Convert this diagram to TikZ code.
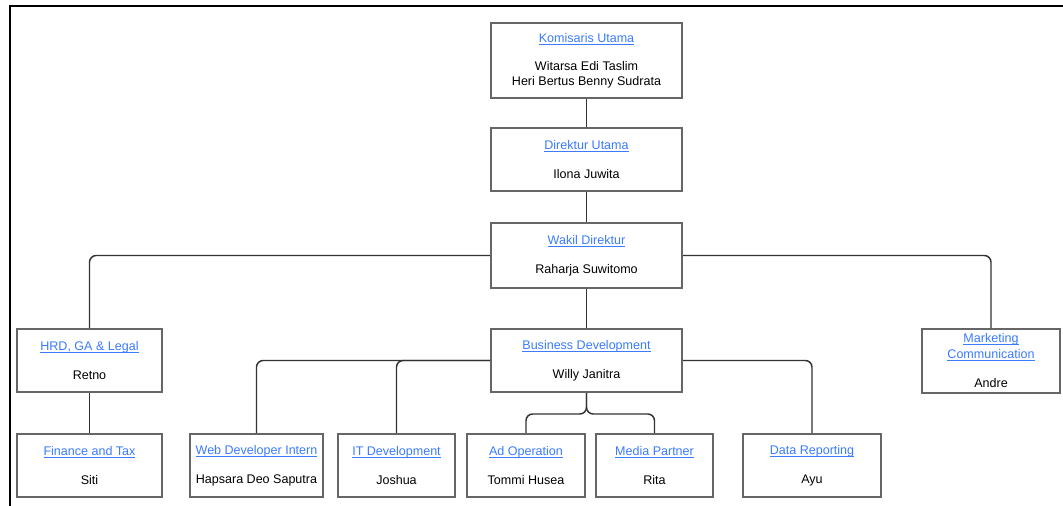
\documentclass[tikz,border=0pt]{standalone}
\usepackage{fontspec}
\setmainfont{Liberation Sans}
\definecolor{linkblue}{HTML}{3A7BFF}
\definecolor{boxgray}{HTML}{666666}
\definecolor{linegray}{HTML}{333333}
\newcommand\hd[1]{{\color{linkblue}\setbox0\hbox{#1}\rlap{\rule[-1.6pt]{\wd0}{0.6pt}}\box0}}
\begin{document}
\begin{tikzpicture}[x=0.75pt,y=-0.75pt,
  box/.style={draw=boxgray, line width=1.5pt, fill=white, inner sep=0pt, align=center,
    font=\fontsize{9.4}{11.25}\selectfont, text=black},
  conn/.style={draw=linegray, line width=1.1pt, rounded corners=5pt}]
\useasboundingbox (0,0) rectangle (1063,506);
% frame
\draw[black, line width=1.5pt] (9.5,506) -- (9.5,6) -- (1063,6);
% boxes
\node[box, minimum width=143.25pt, minimum height=56.25pt] (kom) at (586.5,60.5)
  {\hd{Komisaris Utama}\\[9.75pt]Witarsa Edi Taslim\\Heri Bertus Benny Sudrata};
\node[box, minimum width=143.25pt, minimum height=47.25pt] (dir) at (586.5,159.5)
  {\hd{Direktur Utama}\\[10.5pt]Ilona Juwita};
\node[box, minimum width=143.25pt, minimum height=48.75pt] (wak) at (586.5,255.5)
  {\hd{Wakil Direktur}\\[10.5pt]Raharja Suwitomo};
\node[box, minimum width=108.75pt, minimum height=47.25pt] (hrd) at (89.5,360.5)
  {\hd{HRD, GA \& Legal}\\[10.5pt]Retno};
\node[box, minimum width=143.25pt, minimum height=47.25pt] (bus) at (586.5,360.5)
  {\hd{Business Development}\\[10.5pt]Willy Janitra};
\node[box, minimum width=103.5pt, minimum height=48pt] (mkt) at (991,361)
  {\hd{Marketing}\\[0.75pt]\hd{Communication}\\[10.5pt]Andre};
\node[box, minimum width=108.75pt, minimum height=47.25pt] (fin) at (89.5,465.5)
  {\hd{Finance and Tax}\\[10.5pt]Siti};
\node[box, minimum width=99.75pt, minimum height=47.25pt] (web) at (256.5,465.5)
  {\hd{Web Developer Intern}\\[10.5pt]Hapsara Deo Saputra};
\node[box, minimum width=87.75pt, minimum height=47.25pt] (itd) at (396.5,465.5)
  {\hd{IT Development}\\[10.5pt]Joshua};
\node[box, minimum width=88.5pt, minimum height=47.25pt] (ado) at (526,465.5)
  {\hd{Ad Operation}\\[10.5pt]Tommi Husea};
\node[box, minimum width=87.75pt, minimum height=47.25pt] (med) at (654.5,465.5)
  {\hd{Media Partner}\\[10.5pt]Rita};
\node[box, minimum width=103.5pt, minimum height=47.25pt] (dat) at (812,465.5)
  {\hd{Data Reporting}\\[10.5pt]Ayu};
% connectors
\coordinate (split) at (586.5,414);
\draw[conn] (kom.south) -- (dir.north);
\draw[conn] (dir.south) -- (wak.north);
\draw[conn] (wak.west) -| (hrd.north);
\draw[conn] (wak.east) -| (mkt.north);
\draw[conn] (wak.south) -- (bus.north);
\draw[conn] (hrd.south) -- (fin.north);
\draw[conn] (bus.west) -| (web.north);
\draw[conn] (bus.west) -| (itd.north);
\draw[conn] (bus.east) -| (dat.north);
\draw[conn] (bus.south) -- (split) -| (ado.north);
\draw[conn] (bus.south) -- (split) -| (med.north);
\end{tikzpicture}
\end{document}
